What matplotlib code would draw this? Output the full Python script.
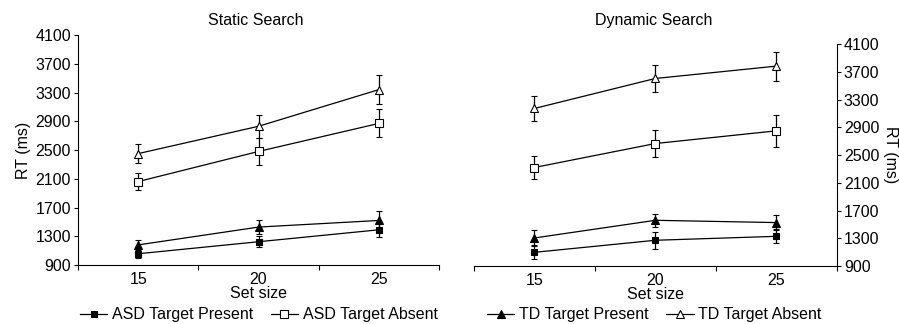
#!/usr/bin/env python3
"""Visual search RT by set size: static vs dynamic search, ASD vs TD."""

import matplotlib
matplotlib.use("Agg")
import matplotlib.pyplot as plt
from matplotlib.lines import Line2D

plt.rcParams["font.family"] = ["Liberation Sans", "DejaVu Sans"]
plt.rcParams["font.size"] = 11.5

SET_SIZES = [15, 20, 25]
PANEL_TITLES = ["Static Search", "Dynamic Search"]
SERIES_LABELS = ["ASD Target Present", "ASD Target Absent", "TD Target Present", "TD Target Absent"]

# static search: mean RT and error
static_asd_present = [1057, 1224, 1390]
static_asd_present_err = [62, 80, 102]
static_asd_absent = [2061, 2480, 2870]
static_asd_absent_err = [115, 190, 195]
static_td_present = [1180, 1428, 1520]
static_td_present_err = [70, 95, 125]
static_td_absent = [2450, 2830, 3340]
static_td_absent_err = [135, 160, 200]

# dynamic search
dynamic_asd_present = [1097, 1271, 1328]
dynamic_asd_present_err = [100, 120, 102]
dynamic_asd_absent = [2320, 2666, 2849]
dynamic_asd_absent_err = [165, 190, 235]
dynamic_td_present = [1304, 1559, 1526]
dynamic_td_present_err = [120, 95, 113]
dynamic_td_absent = [3171, 3604, 3782]
dynamic_td_absent_err = [185, 190, 210]

Y_TICKS = [900, 1300, 1700, 2100, 2500, 2900, 3300, 3700, 4100]

STYLES = [
    dict(marker="s", mfc="black", ms=5),
    dict(marker="s", mfc="white", ms=5.5),
    dict(marker="^", mfc="black", ms=6),
    dict(marker="^", mfc="white", ms=6),
]


def draw_panel(ax, series, right=False):
    for (vals, errs), style in zip(series, STYLES):
        ax.errorbar(SET_SIZES, vals, yerr=errs, color="black", mec="black",
                    lw=0.9, elinewidth=0.9, capsize=2.3, capthick=0.9,
                    mew=0.8, **style)
    ax.set_xlim(12.5, 27.5)
    ax.set_ylim(900, 4100)
    ax.set_yticks(Y_TICKS)
    ax.set_xticks([12.5, 17.5, 22.5, 27.5])
    ax.set_xticklabels([])
    ax.set_xticks(SET_SIZES, minor=True)
    ax.set_xticklabels([str(s) for s in SET_SIZES], minor=True)
    ax.tick_params(axis="x", which="minor", length=0, pad=5)
    ax.tick_params(axis="x", which="major", direction="out", length=3.5, width=0.8)
    ax.tick_params(axis="y", direction="out", length=3, width=0.8, pad=2)
    ax.set_xlabel("Set size", labelpad=-1)
    ax.spines["top"].set_visible(False)
    if right:
        ax.spines["left"].set_visible(False)
        ax.yaxis.tick_right()
        ax.yaxis.set_label_position("right")
        ax.set_ylabel("RT (ms)", rotation=270, labelpad=13)
    else:
        ax.spines["right"].set_visible(False)
        ax.set_ylabel("RT (ms)", labelpad=3)
    for sp in ax.spines.values():
        sp.set_linewidth(0.8)


fig = plt.figure(figsize=(8.99, 3.24), dpi=100)
ax_static = fig.add_axes([0.0868, 0.182, 0.4015, 0.710])
ax_dynamic = fig.add_axes([0.527, 0.179, 0.404, 0.685])

draw_panel(ax_static, [
    (static_asd_present, static_asd_present_err),
    (static_asd_absent, static_asd_absent_err),
    (static_td_present, static_td_present_err),
    (static_td_absent, static_td_absent_err),
])
draw_panel(ax_dynamic, [
    (dynamic_asd_present, dynamic_asd_present_err),
    (dynamic_asd_absent, dynamic_asd_absent_err),
    (dynamic_td_present, dynamic_td_present_err),
    (dynamic_td_absent, dynamic_td_absent_err),
], right=True)

fig.text(0.285, 0.937, PANEL_TITLES[0], ha="center", va="center")
fig.text(0.727, 0.937, PANEL_TITLES[1], ha="center", va="center")

handles = [Line2D([], [], color="black", lw=0.9, mec="black", mew=0.8, **st)
           for st in STYLES]
fig.legend(handles[:2], SERIES_LABELS[:2], loc="center", ncol=2,
           bbox_to_anchor=(0.288, 0.028), frameon=False, handlelength=1.7,
           handletextpad=0.3, columnspacing=1.1, borderpad=0)
fig.legend(handles[2:], SERIES_LABELS[2:], loc="center", ncol=2,
           bbox_to_anchor=(0.728, 0.028), frameon=False, handlelength=1.7,
           handletextpad=0.3, columnspacing=1.1, borderpad=0)

fig.savefig("out.png", dpi=100)
